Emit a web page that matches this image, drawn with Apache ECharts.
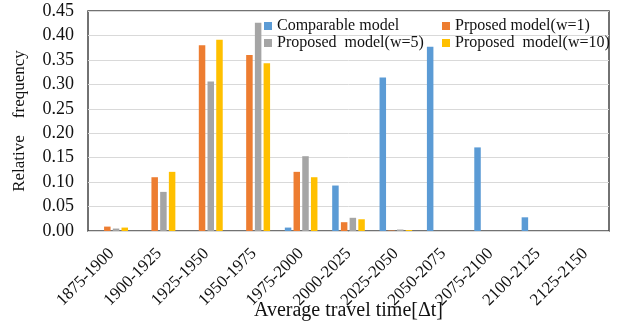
<!DOCTYPE html>
<html><head><meta charset="utf-8">
<script src="https://cdn.jsdelivr.net/npm/echarts@6/dist/echarts.min.js"></script>
<style>html,body{margin:0;padding:0;background:#fff}#c{width:619px;height:322px}</style>
</head><body><div id="c"></div>
<script>
var categories = ['1875-1900','1900-1925','1925-1950','1950-1975','1975-2000','2000-2025','2025-2050','2050-2075','2075-2100','2100-2125','2125-2150'];
var seriesNames = ['Comparable model','Prposed model(w=1)','Proposed  model(\u1D21=5)','Proposed  model(\u1D21=10)'];
var comparable = [0, 0, 0, 0, 0.007, 0.093, 0.314, 0.377, 0.171, 0.028, 0];
var w1 = [0.009, 0.110, 0.380, 0.360, 0.121, 0.018, 0.001, 0, 0, 0, 0];
var w5 = [0.005, 0.080, 0.306, 0.426, 0.153, 0.027, 0.003, 0, 0, 0, 0];
var w10 = [0.007, 0.121, 0.391, 0.343, 0.110, 0.024, 0.002, 0, 0, 0, 0];
var yTicks = [0, 0.45, 0.05];
var colors = ['#5b9bd5','#ed7d31','#a5a5a5','#ffc000'];
var font = '"Liberation Serif","Times New Roman",serif';
var chart = echarts.init(document.getElementById('c'), null, {renderer:'canvas'});
var data = [comparable, w1, w5, w10];
chart.setOption({
  animation:false,
  color: colors,
  textStyle:{fontFamily:font},
  grid:{left:88,right:10,top:11,bottom:91,show:true,borderColor:'#444',borderWidth:1.5,backgroundColor:'transparent',containLabel:false,outerBoundsMode:'none'},
  legend:{
    left:259, top:13, orient:'horizontal', width:350,
    itemWidth:8, itemHeight:8, itemGap:1, icon:'rect',
    textStyle:{fontFamily:font,fontSize:16,color:'#111',lineHeight:15},
    data: seriesNames.map(function(n,i){
      return i%2===0 ? {name:n,textStyle:{width:164}} : {name:n};
    })
  },
  xAxis:{
    type:'category', data:categories,
    axisLine:{show:false}, axisTick:{show:false},
    axisLabel:{rotate:45,fontFamily:font,fontSize:17,color:'#111',margin:20,interval:0},
    name:'Average travel time[\u0394t]', nameLocation:'middle', nameGap:70, nameMoveOverlap:false,
    nameTextStyle:{fontFamily:font,fontSize:20,color:'#111'}
  },
  yAxis:{
    type:'value', min:yTicks[0], max:yTicks[1], interval:yTicks[2],
    axisLine:{show:false}, axisTick:{show:false},
    splitLine:{lineStyle:{color:'#d9d9d9',width:1}},
    axisLabel:{fontFamily:font,fontSize:18,color:'#111',margin:14,formatter:function(v){return v.toFixed(2);}},
    name:'Relative    frequency', nameLocation:'middle', nameGap:60, nameRotate:90, nameMoveOverlap:false,
    nameTextStyle:{fontFamily:font,fontSize:17,color:'#111'}
  },
  series: seriesNames.map(function(n,i){
    return {name:n,type:'bar',data:data[i],barWidth:6.5,barGap:'34%',barCategoryGap:'31%'};
  })
});
</script></body></html>
